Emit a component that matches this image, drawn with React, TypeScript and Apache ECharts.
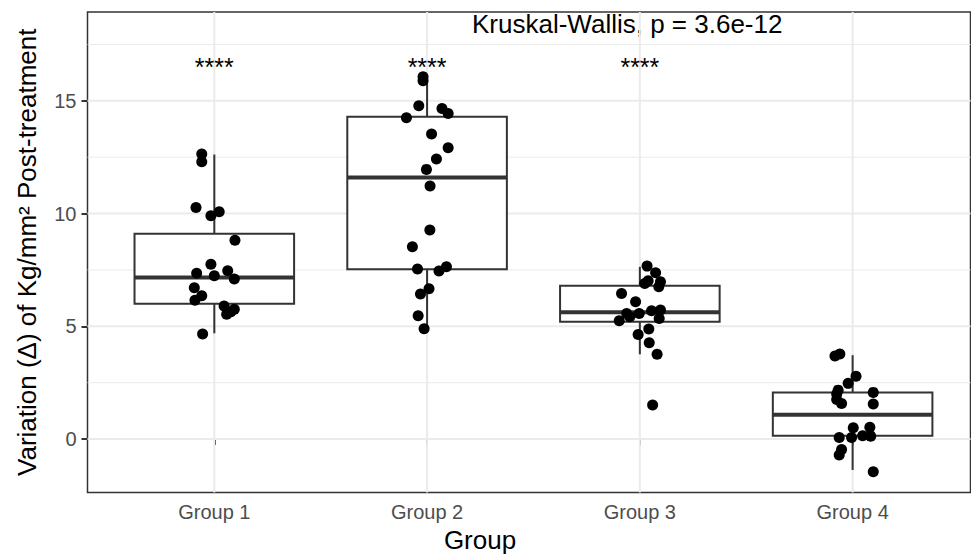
import React, { useEffect, useRef } from "react";
import * as echarts from "echarts";

const categories = ["Group 1", "Group 2", "Group 3", "Group 4"];

// box statistics: lower whisker, Q1, median, Q3, upper whisker
const boxLow = [4.69, 4.89, 3.76, -1.37];
const boxQ1 = [6.0, 7.53, 5.2, 0.15];
const boxMedian = [7.17, 11.6, 5.62, 1.08];
const boxQ3 = [9.1, 14.29, 6.8, 2.07];
const boxHigh = [12.62, 16.07, 7.64, 3.72];

// jittered observations: values and horizontal jitter (in category units)
const g1Values = [12.64, 12.3, 10.27, 9.9, 10.08, 8.82, 7.75, 7.35, 7.24, 7.46, 7.1, 6.71, 6.36, 6.16, 5.9, 5.76, 5.54, 5.65, 4.66];
const g1Jitter = [-0.059, -0.059, -0.086, -0.016, 0.023, 0.097, -0.016, -0.083, 0.0, 0.063, 0.094, -0.094, -0.059, -0.091, 0.046, 0.094, 0.058, 0.078, -0.055];
const g2Values = [16.07, 15.89, 14.78, 14.66, 14.44, 14.25, 13.53, 12.92, 12.42, 11.96, 11.22, 9.27, 8.53, 7.54, 7.45, 7.64, 6.67, 6.43, 5.47, 4.89];
const g2Jitter = [-0.019, -0.019, -0.039, 0.07, 0.099, -0.097, 0.021, 0.099, 0.044, -0.003, 0.014, 0.013, -0.069, -0.045, 0.056, 0.091, 0.009, -0.031, -0.042, -0.014];
const g3Values = [7.67, 7.38, 6.9, 7.02, 6.98, 6.75, 6.46, 6.09, 5.57, 5.57, 5.69, 5.72, 5.35, 5.42, 5.25, 4.88, 4.64, 4.27, 3.76, 1.51];
const g3Jitter = [0.034, 0.074, 0.023, 0.039, 0.097, 0.089, -0.086, -0.02, -0.062, -0.003, 0.055, 0.097, 0.091, -0.047, -0.097, 0.042, -0.008, 0.044, 0.081, 0.06];
const g4Values = [3.68, 3.77, 2.79, 2.47, 2.17, 2.0, 2.07, 1.76, 1.58, 1.55, 0.5, 0.52, 0.07, 0.07, 0.15, 0.13, -0.46, -0.71, -1.45];
const g4Jitter = [-0.083, -0.06, 0.016, -0.021, -0.068, -0.075, 0.097, -0.075, -0.052, 0.097, 0.003, 0.081, -0.063, -0.005, 0.047, 0.085, -0.052, -0.063, 0.097];

const groupValues = [g1Values, g2Values, g3Values, g4Values];
const groupJitter = [g1Jitter, g2Jitter, g3Jitter, g4Jitter];

const sigLabels = ["****", "****", "****"];
const testLabel = "Kruskal-Wallis, p = 3.6e-12";
const yTicks = [0, 5, 10, 15];
const yMinorGrid = [2.5, 7.5, 12.5, 17.5];
const xTicks = [1, 2, 3, 4];

const FONT = "'Liberation Sans', Arial, Helvetica, sans-serif";
const SIG_Y = 16.48;

export default function App() {
  const ref = useRef<HTMLDivElement>(null);

  useEffect(() => {
    if (!ref.current) return;
    const chart = echarts.init(ref.current, undefined, { renderer: "svg" });

    const points: number[][] = [];
    groupValues.forEach((vals, gi) => {
      vals.forEach((v, k) => points.push([gi + 1 + groupJitter[gi][k], v]));
    });

    const option: any = {
      animation: false,
      backgroundColor: "#ffffff",
      grid: {
        left: 87.5,
        right: 0.5,
        top: 12,
        bottom: 61.5,
        show: true,
        borderColor: "#333333",
        borderWidth: 1.5,
        backgroundColor: "transparent",
        containLabel: false,
        outerBoundsMode: "none",
      },
      xAxis: {
        type: "value",
        min: 0.404,
        max: 4.554,
        axisLine: { show: false },
        axisTick: { show: true, customValues: xTicks, length: 6, lineStyle: { color: "#333333", width: 2 } },
        axisLabel: {
          customValues: xTicks,
          formatter: (v: number) => categories[Math.round(v) - 1] ?? "",
          fontSize: 20,
          color: "#4D4D4D",
          margin: 9,
          fontFamily: FONT,
        },
        splitLine: { show: false },
        name: "Group",
        nameLocation: "middle",
        nameGap: 34,
        nameTextStyle: { fontSize: 26, color: "#000000", fontFamily: FONT, padding: [0, 98, 0, 0] },
      },
      yAxis: {
        type: "value",
        min: -2.37,
        max: 18.94,
        axisLine: { show: false },
        axisTick: { show: true, customValues: yTicks, length: 6, lineStyle: { color: "#333333", width: 2 } },
        axisLabel: {
          customValues: yTicks,
          fontSize: 20,
          color: "#4D4D4D",
          margin: 11,
          fontFamily: FONT,
        },
        splitLine: { show: false },
        name: "Variation (Δ) of Kg/mm² Post-treatment",
        nameLocation: "middle",
        nameGap: 48,
        nameTextStyle: { fontSize: 26, color: "#000000", fontFamily: FONT },
      },
      graphic: [
        {
          type: "text",
          left: 472,
          top: 11,
          style: { text: testLabel, fontSize: 26, fill: "#000000", fontFamily: FONT },
        },
      ],
      series: [
        {
          type: "custom",
          z: 1,
          silent: true,
          data: [[1, 0]],
          renderItem: (params: any, api: any) => {
            const cs = params.coordSys;
            const children: any[] = [];
            yMinorGrid.forEach((v) => {
              const y = api.coord([1, v])[1];
              children.push({ type: "line", shape: { x1: cs.x, y1: y, x2: cs.x + cs.width, y2: y }, style: { stroke: "#EBEBEB", lineWidth: 1 } });
            });
            yTicks.forEach((v) => {
              const y = api.coord([1, v])[1];
              children.push({ type: "line", shape: { x1: cs.x, y1: y, x2: cs.x + cs.width, y2: y }, style: { stroke: "#EBEBEB", lineWidth: 2 } });
            });
            xTicks.forEach((v) => {
              const x = api.coord([v, 0])[0];
              children.push({ type: "line", shape: { x1: x, y1: cs.y, x2: x, y2: cs.y + cs.height }, style: { stroke: "#EBEBEB", lineWidth: 2 } });
            });
            return { type: "group", children };
          },
        },
        {
          type: "custom",
          z: 2,
          silent: true,
          data: categories.map((_, i) => [i + 1, boxLow[i], boxQ1[i], boxMedian[i], boxQ3[i], boxHigh[i]]),
          renderItem: (params: any, api: any) => {
            const x = api.value(0);
            const half = api.size([0.75, 0])[0] / 2;
            const pLow = api.coord([x, api.value(1)]);
            const pQ1 = api.coord([x, api.value(2)]);
            const pMed = api.coord([x, api.value(3)]);
            const pQ3 = api.coord([x, api.value(4)]);
            const pHigh = api.coord([x, api.value(5)]);
            const stroke = "#333333";
            return {
              type: "group",
              children: [
                { type: "line", shape: { x1: pQ3[0], y1: pQ3[1], x2: pHigh[0], y2: pHigh[1] }, style: { stroke, lineWidth: 2 } },
                { type: "line", shape: { x1: pQ1[0], y1: pQ1[1], x2: pLow[0], y2: pLow[1] }, style: { stroke, lineWidth: 2 } },
                {
                  type: "rect",
                  shape: { x: pQ3[0] - half, y: pQ3[1], width: half * 2, height: pQ1[1] - pQ3[1] },
                  style: { fill: "#ffffff", stroke, lineWidth: 2 },
                },
                { type: "line", shape: { x1: pMed[0] - half, y1: pMed[1], x2: pMed[0] + half, y2: pMed[1] }, style: { stroke, lineWidth: 4 } },
              ],
            };
          },
        },
        {
          type: "scatter",
          z: 3,
          silent: true,
          symbol: "circle",
          symbolSize: 11,
          itemStyle: { color: "#000000", opacity: 1 },
          data: points,
        },
        {
          type: "custom",
          z: 4,
          silent: true,
          data: sigLabels.map((_, i) => [i + 1, SIG_Y]),
          renderItem: (params: any, api: any) => {
            const p = api.coord([api.value(0), api.value(1)]);
            return {
              type: "text",
              x: p[0],
              y: p[1],
              style: {
                text: sigLabels[params.dataIndex],
                fontSize: 25,
                fontFamily: FONT,
                fill: "#000000",
                align: "center",
                verticalAlign: "middle",
              },
            };
          },
        },
      ],
    };

    chart.setOption(option);
    return () => chart.dispose();
  }, []);

  return (
    <div
      ref={ref}
      style={{ position: "absolute", left: 0, top: 0, width: 971, height: 554, background: "#ffffff" }}
    />
  );
}
